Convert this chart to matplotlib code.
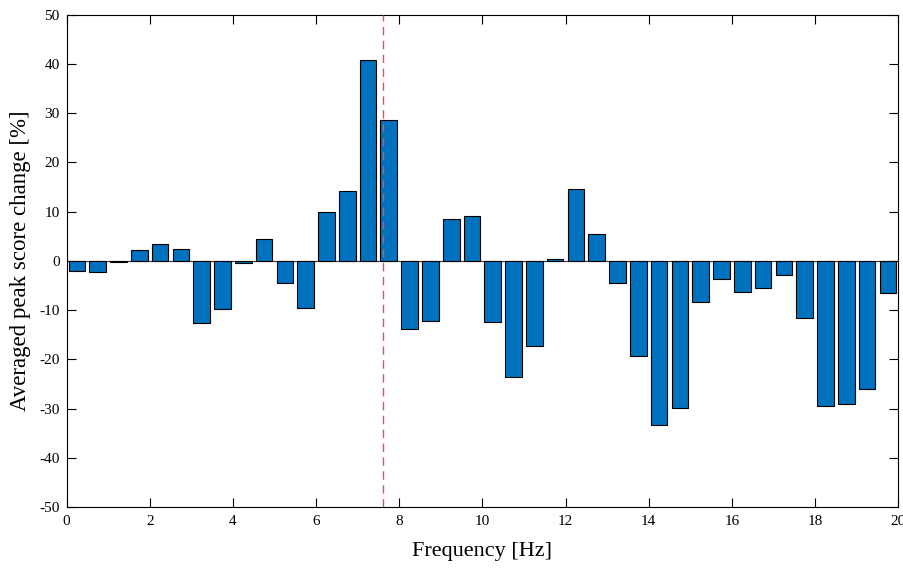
import numpy as np
import matplotlib
matplotlib.use('Agg')
import matplotlib.pyplot as plt

# bar centres [Hz] and averaged peak score change [%]
freqs = np.arange(0.25, 20, 0.5)
changes = [-2.0, -2.2, -0.3, 2.3, 3.5, 2.5, -12.7, -9.8, -0.5, 4.5,
           -4.4, -9.6, 9.9, 14.1, 40.9, 28.7, -13.9, -12.3, 8.6, 9.2,
           -12.4, -23.5, -17.3, 0.4, 14.6, 5.5, -4.5, -19.4, -33.4, -29.9,
           -8.4, -3.6, -6.4, -5.5, -2.8, -11.6, -29.4, -29.1, -26.0, -6.5]
marker_freq = 7.6

plt.rcParams['font.family'] = ['Liberation Serif', 'DejaVu Serif']
plt.rcParams['axes.unicode_minus'] = False

fig = plt.figure(figsize=(9.04, 5.69), dpi=100)
ax = fig.add_axes([0.0736, 0.109, 0.92, 0.865])

ax.axhline(0, color='#333333', linewidth=0.8, zorder=1)
ax.bar(freqs, changes, width=0.4, color='#0072BD', edgecolor='black', linewidth=0.8, zorder=2)
ax.axvline(marker_freq, color='#FF4545', linestyle=(0, (6, 4)), linewidth=1.0, zorder=3)

ax.set_xlim(0, 20)
ax.set_ylim(-50, 50)
ax.set_xticks(np.arange(0, 21, 2))
ax.set_yticks(np.arange(-50, 51, 10))
ax.tick_params(direction='in', top=True, right=True, labelsize=11, length=6.5, width=0.8)
ax.tick_params(axis='x', pad=6)
ax.tick_params(axis='y', pad=5)
for s in ax.spines.values():
    s.set_linewidth(0.8)

ax.set_xlabel('Frequency [Hz]', fontsize=16, labelpad=10)
ax.set_ylabel('Averaged peak score change [%]', fontsize=16.5, labelpad=6)

fig.savefig('out.png', dpi=100)
